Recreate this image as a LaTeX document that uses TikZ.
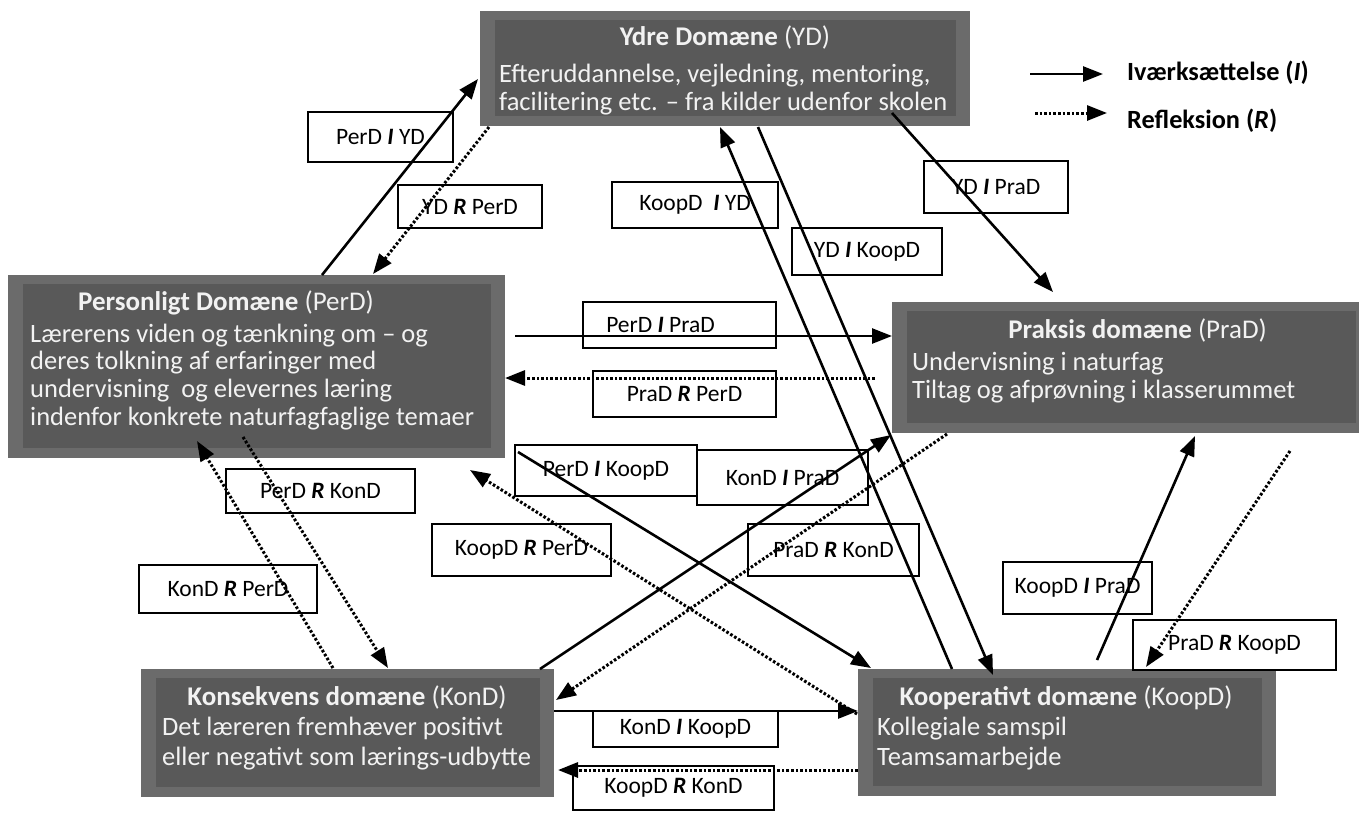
\documentclass[tikz,border=0pt]{standalone}
\usepackage{fontspec}
\setmainfont{Carlito}
\usetikzlibrary{arrows.meta,calc}
\definecolor{outerc}{HTML}{6B6B6B}
\definecolor{innerc}{HTML}{595959}
\definecolor{txtc}{HTML}{F2F2F2}
\begin{document}
\begin{tikzpicture}[x=1pt,y=-1pt,
  dom/.style={fill=outerc,inner sep=0pt,outer sep=0pt},
  ttl/.style={anchor=base,text=txtc,inner sep=0pt,font=\fontsize{27}{28}\selectfont},
  bodytxt/.style={anchor=base west,text=txtc,inner sep=0pt,font=\fontsize{26.5}{28}\selectfont},
  lbl/.style={draw=black,line width=1.8pt,fill=white,inner sep=0pt,font=\fontsize{23.5}{28}\selectfont},
  legtxt/.style={anchor=base west,inner sep=0pt,font=\fontsize{26.3}{28}\selectfont\bfseries},
  impl/.style={line width=2.6pt,-{Triangle[length=20pt,width=15pt]}},
  refl/.style={line width=3pt,dash pattern=on 2.6pt off 2pt,-{Triangle[length=20pt,width=15pt]}},
]
\useasboundingbox (0,0) rectangle (1359,812);
\clip (0,0) rectangle (1359,812);

% domain boxes
\node[dom,minimum width=490,minimum height=115] (YD) at (725,68.5) {};
\node[dom,minimum width=497,minimum height=183] (PerD) at (256.5,366.5) {};
\node[dom,minimum width=478,minimum height=131] (PraD) at (1131,367.5) {};
\node[dom,minimum width=413,minimum height=128] (KonD) at (347.5,733) {};
\node[dom,minimum width=418,minimum height=127] (KoopD) at (1067,732.5) {};
\foreach \b in {YD,PerD,PraD,KonD,KoopD}{
  \fill[innerc] ($(\b.north west)+(15,9)$) rectangle ($(\b.south east)+(-14,-10)$);
}

% domain texts
\node[ttl] (ydt) at (725,45) {\textbf{Ydre Domæne} (YD)};
\node[bodytxt] (yd1) at (499,82) {Efteruddannelse, vejledning, mentoring,};
\node[bodytxt] (yd2) at (499,110) {facilitering etc. – fra kilder udenfor skolen};

\node[ttl] (pert) at (226,310) {\textbf{Personligt\ Domæne}\ (PerD)};
\node[bodytxt] (per1) at (30,342) {Lærerens viden og tænkning om – og};
\node[bodytxt] (per2) at (30,369) {deres tolkning af erfaringer med};
\node[bodytxt] (per3) at (30,397) {undervisning\ \ og elevernes læring};
\node[bodytxt] (per4) at (30,425) {indenfor konkrete naturfagfaglige temaer};

\node[ttl] (prat) at (1137.5,338) {\textbf{Praksis domæne} (PraD)};
\node[bodytxt] (pra1) at (912,370) {Undervisning i naturfag};
\node[bodytxt] (pra2) at (912,398) {Tiltag og afprøvning i klasserummet};

\node[ttl] (kont) at (347,705) {\textbf{Konsekvens domæne} (KonD)};
\node[bodytxt] (kon1) at (162,735) {Det læreren fremhæver positivt};
\node[bodytxt] (kon2) at (162,765) {eller negativt som lærings-udbytte};

\node[ttl] (koopt) at (1066,705) {\textbf{Kooperativt domæne} (KoopD)};
\node[bodytxt] (koop1) at (877,735) {Kollegiale samspil};
\node[bodytxt] (koop2) at (877,765) {Teamsamarbejde};

% label boxes
\node[lbl,minimum width=145,minimum height=50] (l1) at (380.5,137) {PerD \textbf{\textit{I}} YD};
\node[lbl,minimum width=144,minimum height=43] (l2) at (470,206.5) {YD \textbf{\textit{R}} PerD};
\node[lbl,minimum width=166,minimum height=46] (l3) at (695,205) {KoopD\ \ \textbf{\textit{I}} YD};
\node[lbl,minimum width=150,minimum height=47] (l4) at (867,251.5) {YD \textbf{\textit{I}} KoopD};
\node[lbl,minimum width=144,minimum height=52] (l5) at (996,187) {YD \textbf{\textit{I}} PraD};
\node[lbl,minimum width=193,minimum height=46] (l6) at (679.5,325) {PerD \textbf{\textit{I}} PraD\hspace*{38pt}};
\node[lbl,minimum width=183,minimum height=46] (l7) at (684.5,394) {PraD \textbf{\textit{R}} PerD};
\node[lbl,minimum width=182,minimum height=51] (l8) at (606,470.5) {PerD \textbf{\textit{I}} KoopD};
\node[lbl,minimum width=171,minimum height=55] (l9) at (782.5,477.5) {KonD \textbf{\textit{I}} PraD};
\node[lbl,minimum width=179,minimum height=52] (l10) at (521.5,550) {KoopD \textbf{\textit{R}} PerD};
\node[lbl,minimum width=171,minimum height=52] (l11) at (833.5,550) {PraD \textbf{\textit{R}} KonD};
\node[lbl,minimum width=189,minimum height=44] (l12) at (320.5,491) {PerD \textbf{\textit{R}} KonD};
\node[lbl,minimum width=178,minimum height=48] (l13) at (228,589) {KonD \textbf{\textit{R}} PerD};
\node[lbl,minimum width=149,minimum height=52] (l14) at (1077.5,588) {KoopD \textbf{\textit{I}} PraD};
\node[lbl,minimum width=203,minimum height=50] (l15) at (1234.5,645) {PraD \textbf{\textit{R}} KoopD};
\node[lbl,minimum width=185,minimum height=36] (l16) at (685.5,729) {KonD \textbf{\textit{I}} KoopD};
\node[lbl,minimum width=201,minimum height=44] (l17) at (673.5,788) {KoopD \textbf{\textit{R}} KonD};

% connector end points
\coordinate (a1s) at (322,275);  \coordinate (a1e) at (478,79);
\coordinate (a2s) at (489,127);  \coordinate (a2e) at (373,274);
\coordinate (a3s) at (952,669);  \coordinate (a3e) at (720,127);
\coordinate (a4s) at (758,127);  \coordinate (a4e) at (993,675);
\coordinate (a5s) at (892,113);  \coordinate (a5e) at (1053,292);
\coordinate (a6s) at (515,336);  \coordinate (a6e) at (892,336);
\coordinate (a7s) at (875,378);  \coordinate (a7e) at (505,378);
\coordinate (a8s) at (518,452);  \coordinate (a8e) at (871,668);
\coordinate (a9s) at (540,669);  \coordinate (a9e) at (891,435);
\coordinate (a10s) at (947,434); \coordinate (a10e) at (556,700);
\coordinate (a11s) at (857,714); \coordinate (a11e) at (470,470);
\coordinate (a12s) at (243,437); \coordinate (a12e) at (388,668);
\coordinate (a13s) at (333,668); \coordinate (a13e) at (197,441);
\coordinate (a14s) at (554,711); \coordinate (a14e) at (858,711);
\coordinate (a15s) at (858,770); \coordinate (a15e) at (558,770);
\coordinate (a16s) at (1097,660); \coordinate (a16e) at (1195,436);
\coordinate (a17s) at (1290,451); \coordinate (a17e) at (1146,667);

% connectors
\draw[impl] (a1s) -- (a1e);
\draw[refl] (a2s) -- (a2e);
\draw[impl] (a3s) -- (a3e);
\draw[impl] (a4s) -- (a4e);
\draw[impl] (a5s) -- (a5e);
\draw[impl] (a6s) -- (a6e);
\draw[refl] (a7s) -- (a7e);
\draw[impl] (a8s) -- (a8e);
\draw[impl] (a9s) -- (a9e);
\draw[refl] (a10s) -- (a10e);
\draw[refl] (a11s) -- (a11e);
\draw[refl] (a12s) -- (a12e);
\draw[refl] (a13s) -- (a13e);
\draw[impl] (a14s) -- (a14e);
\draw[refl] (a15s) -- (a15e);
\draw[impl] (a16s) -- (a16e);
\draw[refl] (a17s) -- (a17e);

% legend
\coordinate (lg1s) at (1030,74); \coordinate (lg1e) at (1103,74);
\coordinate (lg2s) at (1035,113); \coordinate (lg2e) at (1107,113);
\draw[impl] (lg1s) -- (lg1e);
\draw[refl] (lg2s) -- (lg2e);
\node[legtxt] (lgt1) at (1127,80) {Iværksættelse (\textit{I})};
\node[legtxt] (lgt2) at (1127,128) {Refleksion (\textit{R})};
\end{tikzpicture}
\end{document}
